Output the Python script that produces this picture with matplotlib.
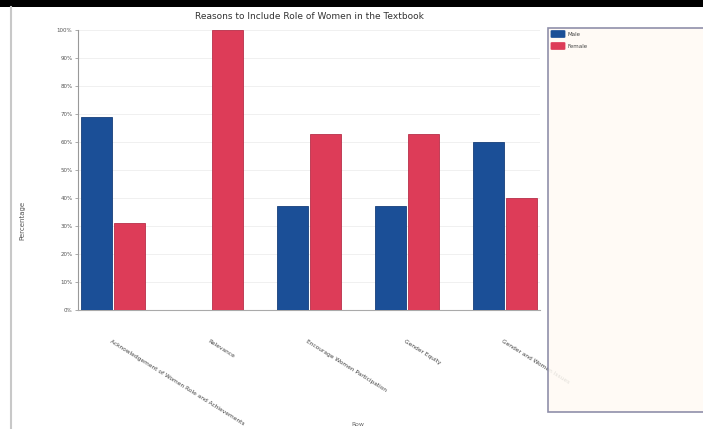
import numpy as np
import matplotlib.pyplot as plt
from matplotlib.patches import Rectangle, FancyBboxPatch

# data
reasons = ["Acknowledgement of Women Role and Achievements",
           "Relevance",
           "Encourage Women Participation",
           "Gender Equity",
           "Gender and Women Issues"]
male = [69, 0, 37, 37, 60]
female = [31, 100, 63, 63, 40]
yticks = list(range(0, 101, 10))

male_col = "#1b4f97"
female_col = "#dd3c58"
grey = "#8a8a8a"

fig = plt.figure(figsize=(7.03, 4.29), dpi=100)
fig.patch.set_facecolor("white")

# black strip at top and thin frame line at left
fig.add_artist(Rectangle((0, 1 - 7 / 429), 1, 7 / 429, transform=fig.transFigure,
                         color="black", lw=0))
fig.add_artist(plt.Line2D([11 / 703, 11 / 703], [0, 1 - 7 / 429],
                          transform=fig.transFigure, color="#c8c8c8", lw=1.5))

ax = fig.add_axes([78 / 703, 119 / 429, 462 / 703, 280 / 429])
x = np.arange(len(reasons))
w = 0.316
ax.bar(x - w / 2 - 0.015, male, w, color=male_col, edgecolor="#163f7a", lw=0.6, zorder=3)
ax.bar(x + w / 2 + 0.015, female, w, color=female_col, edgecolor="#b8304a", lw=0.6, zorder=3)
ax.set_xlim(-0.357, len(reasons) - 1 + 0.357)
ax.set_ylim(0, 100)
ax.set_yticks(yticks)
ax.set_yticklabels([f"{v}%" for v in yticks], fontsize=4, color="#555555")
ax.yaxis.grid(True, color="#eeeeee", lw=0.6, zorder=0)
ax.tick_params(axis="y", length=2, width=0.5, color=grey, pad=2)
ax.tick_params(axis="x", length=0)
ax.set_xticks(x)
ax.set_xticklabels([])
for s in ["top", "right"]:
    ax.spines[s].set_visible(False)
ax.spines["left"].set_color("#999999")
ax.spines["bottom"].set_color("#aaaaaa")
ax.spines["left"].set_linewidth(0.8)
ax.spines["bottom"].set_linewidth(0.8)

for i, r in enumerate(reasons):
    ax.annotate(r, (i, 0), xytext=(-2, -22), textcoords="offset points",
                rotation=-32, rotation_mode="anchor", ha="left", va="center",
                fontsize=4.2, color="#444444", annotation_clip=False)

ax.set_title("Reasons to Include Role of Women in the Textbook", fontsize=6.5,
             color="#333333", pad=8)
fig.text(22 / 703, 1 - 220 / 429, "Percentage", rotation=90, fontsize=5,
         color="#555555", ha="center", va="center")
fig.text(358 / 703, 1 - 424 / 429, "Row", fontsize=4.5, color="#666666",
         ha="center", va="center")

# legend panel
fig.add_artist(Rectangle((548 / 703, 17 / 429), 160 / 703, 384 / 429,
                         transform=fig.transFigure, facecolor="#fffaf4",
                         edgecolor="#7c7c9c", lw=1.2, alpha=0.85, zorder=5))
names = ["Male", "Female"]
cols = [male_col, female_col]
for k in range(2):
    yy = 1 - (34 + 12 * k) / 429
    fig.add_artist(FancyBboxPatch((552 / 703, yy - 3 / 429), 12 / 703, 6 / 429,
                                  boxstyle="round,pad=0.002", transform=fig.transFigure,
                                  facecolor=cols[k], edgecolor="none", zorder=6))
    fig.text(567 / 703, yy, names[k], fontsize=4, color="#444444", va="center",
             zorder=6)

fig.savefig("out.png", dpi=100)
